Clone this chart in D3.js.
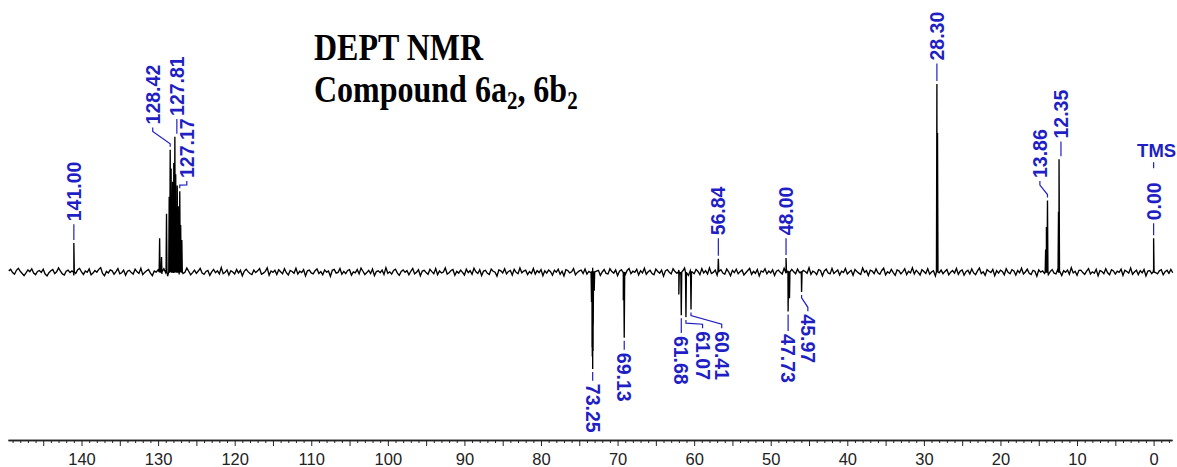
<!DOCTYPE html>
<html><head><meta charset="utf-8">
<script src="https://cdn.jsdelivr.net/npm/d3@7/dist/d3.min.js"></script>
<style>body{margin:0;background:#fff}svg{display:block}</style>
</head><body>
<svg id="chart" width="1177" height="467"></svg>
<script>
// ---------- DATA ----------
const titleLine1 = "DEPT NMR";
const titleParts = [["Compound 6a", false], ["2", true], [", 6b", false], ["2", true]];

// baseline noise (intensity units, 28.30 peak = 100)
const noiseStartPpm = 149.5;
const noiseStepPpm = 0.25;
const noise = [
 0.6,1.4,-0.3,-1.2,0.9,2.0,0.4,-0.8,-1.9,-0.5,1.1,0.2,1.7,-0.6,-1.4,0.3,0.8,-0.2,1.5,-1.1,
 -2.1,-0.4,0.7,1.3,-0.9,0.1,2.2,0.5,-1.0,-1.6,0.4,1.0,-0.3,0.6,-1.8,-0.7,1.2,1.9,0.0,-1.3,
 0.5,-0.2,1.6,-1.5,-0.6,0.8,-0.1,1.4,2.3,-0.8,-2.0,0.3,-0.5,1.1,0.6,-1.2,0.2,1.8,-0.9,-0.4,
 1.0,-1.7,0.4,0.9,-0.3,-1.1,1.5,0.1,-0.7,2.0,-1.4,-0.2,0.7,1.3,-0.6,-1.9,0.5,-0.1,1.2,0.3,
 -1.0,1.7,-0.4,-2.2,0.6,1.1,-0.5,0.2,1.6,-1.3,0.9,-0.8,-0.1,2.1,0.4,-1.5,-0.3,1.0,-0.7,0.5,
 1.9,-0.6,-1.2,0.3,0.8,-1.8,0.1,1.4,-0.4,0.6,-1.0,2.4,-0.9,-0.2,1.1,-1.6,0.7,0.0,-1.1,1.3,
 -0.5,0.9,-2.0,0.4,1.5,0.2,-0.8,-1.4,1.0,-0.3,0.6,1.8,-1.2,-0.6,0.3,2.2,-1.7,0.5,-0.2,0.9,
 -1.3,1.2,0.1,-0.9,1.7,-0.4,-1.6,0.8,0.3,-0.7,2.0,-1.1,0.4,-0.3,1.3,-2.1,0.6,1.0,-0.5,-1.0,
 0.7,1.6,-0.8,0.2,-1.5,1.1,-0.1,0.5,-2.3,0.9,1.4,-0.6,-0.2,1.9,-1.2,0.3,-0.9,0.8,1.2,-1.7,
 0.0,-0.5,1.3,-1.0,2.1,0.4,-1.4,-0.3,0.9,-0.8,1.6,-1.9,0.2,0.6,-0.4,1.0,-1.3,2.3,-0.7,0.1,
 -1.1,0.8,1.5,-0.6,-1.8,0.3,1.1,-0.2,0.7,-1.5,0.4,1.9,-1.0,-0.1,1.2,-2.0,0.5,0.9,-0.3,-1.2,
 1.4,0.2,-0.9,1.8,-1.4,0.6,-0.5,0.0,2.2,-1.1,-0.4,0.8,1.3,-1.7,0.3,-0.6,1.0,-0.2,-1.6,1.5,
 -0.3,0.7,-1.2,2.0,0.1,-0.8,1.2,-1.9,0.5,0.9,-0.7,-1.3,1.6,0.4,-0.1,-2.2,1.1,0.6,-0.5,1.7,
 -1.0,0.3,0.8,-1.6,1.4,-0.2,-0.9,2.1,-0.4,0.5,1.0,-1.4,0.2,-0.8,1.9,-1.1,0.7,-0.3,1.3,-2.0,
 0.6,-0.6,1.1,0.2,-1.7,0.9,-0.1,1.5,-1.2,0.4,-2.1,1.2,0.8,-0.5,0.1,1.8,-1.5,-0.2,0.6,1.0,
 -0.8,1.6,-1.1,0.3,-0.4,2.3,-1.3,0.5,0.9,-1.8,0.0,1.3,-0.7,-1.0,1.7,0.2,-0.6,1.1,-1.9,0.4,
 1.2,-0.3,-1.5,0.8,1.9,-0.9,0.4,-0.2,1.4,-1.6,0.7,-0.5,2.0,-1.2,0.1,0.9,-0.8,-1.4,1.5,0.3,
 -0.6,1.0,-2.2,0.6,1.3,-0.1,-1.0,1.7,0.2,-0.7,1.1,-1.3,0.5,2.1,-0.4,-1.8,0.8,0.0,-0.9,1.4,
 0.3,-1.4,1.8,-0.5,0.7,-1.1,2.2,-0.8,-0.2,1.0,-1.7,0.4,1.2,-0.6,-1.2,1.6,0.1,-2.0,0.9,-0.3,
 1.5,-0.9,0.2,1.1,-1.6,-0.4,0.8,1.9,-1.3,0.3,-0.7,1.3,-2.1,0.6,0.0,1.7,-1.0,0.5,-0.5,1.2,
 -1.8,0.4,1.0,-0.2,-1.1,2.0,-0.6,0.7,-1.5,1.4,0.1,-0.9,1.6,-0.3,-1.9,0.9,0.3,-0.7,2.3,-1.2,
 0.5,-0.1,-1.4,1.2,0.8,-2.0,0.6,1.5,-0.5,-1.0,1.9,-0.8,0.2,1.1,-1.6,0.4,-0.3,1.8,-1.1,0.0,
 0.9,-1.7,1.3,0.3,-0.6,-1.3,2.1,-0.2,0.7,-1.9,1.0,0.5,-0.9,1.6,-0.4,-1.2,0.8,2.0,-1.5,0.1,
 -0.7,1.4,-0.3,-1.8,1.1,0.6,-1.0,0.2,1.7,-1.4,0.4,-0.5,2.2,-1.1,0.9,-0.2,-1.6,1.2,0.3,-0.8,
 1.8,-1.2,0.0,0.7,-2.1,1.5,-0.4,1.0,-0.9,0.3,1.3,-1.5,-0.1,0.8,-0.6,1.9,-1.3,0.5,1.1,-1.7,
 0.2,0.9,-1.0,1.6,-0.5,-1.4,0.6,2.1,-0.8,0.1,-1.8,1.2,0.4,-0.3,1.4,-2.0,0.7,-0.6,1.0,0.3,
 -1.5,1.7,-0.2,-0.9,1.2,0.5,-1.6,0.8,-0.4,2.0,-1.1,0.0,1.5,-0.7,-1.3,0.9,0.4,-2.2,1.1,-0.1,
 0.6,-0.8,1.9,-1.4,0.2,1.3,-0.6,-1.0,1.6,0.3,-1.9,0.7,-0.2,1.1,-1.2,2.3,-0.5,0.4,-1.7,0.9,
 1.0,-0.3,-1.3,0.5,1.8,-1.0,0.1,-0.7,1.4,-2.0,0.8,0.2,-0.9,1.7,-0.4,-1.5,1.2,0.6,-1.1,0.4,
 -0.2,1.5,-1.8,0.9,0.3,-0.6,2.1,-1.2,0.0,1.0,-1.4,0.7,-0.5,1.3,-2.1,0.5,0.8,-0.9,1.6,-0.3,
 -1.0,0.6,1.2,-1.5,0.2,0.9,-0.7,1.4,-0.4
];

// peak lines (ppm, signed intensity)
const peakPpm    = [141.00,129.80,129.55,128.90,128.55,128.42,128.30,128.10,127.95,127.81,127.70,127.50,127.30,127.17,127.05,126.90,
                    73.40,73.33,73.30,73.25,73.20,73.18,73.05,69.25,69.13,62.00,61.68,61.07,60.41,
                    56.84,48.00,47.73,47.55,45.97,28.30,28.22,14.10,14.00,13.86,12.42,12.35,0.00];
const peakHeight = [15.4,18,8,31,40,65,55,48,58,72,52,46,35,43,25,17,
                    -16,-40,-45,-51.6,-42,-28,-10,-15,-35,-12,-23,-24,-20,
                    7,7.5,-21,-14,-10.6,100,74,12,24,38,32,60,18];

// peak labels
const labelText  = ["141.00","128.42","127.81","127.17","56.84","48.00","28.30","13.86","12.35","0.00",
                    "73.25","69.13","61.68","61.07","60.41","47.73","45.97"];
const labelPeak  = [141.00,128.42,127.81,127.17,56.84,48.00,28.30,13.86,12.35,0.00,
                    73.25,69.13,61.68,61.07,60.41,47.73,45.97];
const labelAtPpm = [141.00,130.70,127.55,126.25,56.84,48.00,28.30,14.85,12.10,0.00,
                    73.25,69.13,61.68,58.90,56.40,47.73,45.15];
const labelLevel = [27,78.5,83,50,19.5,19.5,112.5,50,71,27.5,
                    -59.5,-43,-34,-31.5,-31.5,-33,-22.5];
const refLabel = "TMS";

const axisMin = -2.4, axisMax = 149.6;
const majorTicks = d3.range(0, 141, 10);

// ---------- DRAW ----------
const svg = d3.select("#chart");
const x = d3.scaleLinear().domain([axisMax, axisMin]).range([8, 1172]);
const y = d3.scaleLinear().domain([0, 100]).range([272, 84]);
const blue = "#1f1fc4";

// title
const title = svg.append("g").attr("font-family", "'Liberation Serif','Times New Roman',serif")
  .attr("font-weight", "bold").attr("fill", "#000");
title.append("text").attr("transform", "translate(314,60) scale(1,1.18)").attr("font-size", 32).text(titleLine1);
const t2 = title.append("text").attr("transform", "translate(314,102) scale(1,1.18)").attr("font-size", 32);
titleParts.forEach(([s, sub], k) => {
  const ts = t2.append("tspan").text(s);
  if (sub) ts.attr("font-size", 21).attr("dy", 6);
  else if (k > 0) ts.attr("dy", -6);
});

// spectrum trace
const pts = noise.map((v, i) => [noiseStartPpm - i * noiseStepPpm, v]);
peakPpm.forEach((p, i) => { pts.push([p + 0.06, 0], [p, peakHeight[i]], [p - 0.06, 0]); });
pts.sort((a, b) => b[0] - a[0]);
svg.append("path").datum(pts)
  .attr("d", d3.line().x(d => x(d[0])).y(d => y(d[1])))
  .attr("fill", "none").attr("stroke", "#000").attr("stroke-width", 1.35);

// axis
const ax = 440;
const minorVals = d3.range(-2, 150, 1).filter(v => v % 5 !== 0);
const g1 = svg.append("g").attr("transform", `translate(0,${ax})`)
  .call(d3.axisBottom(x).tickValues(minorVals).tickSize(3).tickSizeOuter(0).tickFormat(""));
const g2 = svg.append("g").attr("transform", `translate(0,${ax})`)
  .call(d3.axisBottom(x).tickValues(d3.range(0, 150, 5)).tickSize(6).tickSizeOuter(0).tickPadding(7)
    .tickFormat(d => majorTicks.includes(d) ? d : ""));
[g1, g2].forEach(g => {
  g.select(".domain").attr("stroke", "#222").attr("stroke-width", 1.4);
  g.selectAll(".tick line").attr("stroke", "#222");
});
g2.selectAll(".tick text").attr("font-family", "'Liberation Sans',Arial,sans-serif")
  .attr("font-size", 16.5).attr("fill", "#222");

// labels
const lab = svg.append("g").attr("font-family", "'Liberation Sans',Arial,sans-serif")
  .attr("font-size", 19.5).attr("font-weight", "bold").attr("fill", blue);
labelText.forEach((txt, i) => {
  const pk = labelPeak[i];
  const h = peakHeight[peakPpm.indexOf(pk)];
  const px = x(pk), lx = x(labelAtPpm[i]);
  const up = labelLevel[i] > 0;
  const s = up ? -1 : 1;
  const tipY = y(h) + s * 3;
  const textY = y(labelLevel[i]);
  const endY = textY - s * 3;
  let d;
  if (Math.abs(lx - px) < 2.5) {
    d = `M${lx},${tipY}L${lx},${endY}`;
  } else {
    d = `M${px},${tipY}L${px},${tipY + s * 3}L${lx},${endY - s * 4}L${lx},${endY}`;
  }
  lab.append("path").attr("d", d).attr("fill", "none").attr("stroke", blue).attr("stroke-width", 1.2);
  lab.append("text").attr("transform", `translate(${lx},${textY}) rotate(${up ? -90 : 90})`)
    .attr("dominant-baseline", "central").text(txt);
  if (txt === "0.00") {
    lab.append("path").attr("d", `M${lx},${textY - 58}L${lx},${textY - 52}`)
      .attr("stroke", blue).attr("stroke-width", 1.2);
    lab.append("text").attr("x", lx + 3).attr("y", textY - 63).attr("text-anchor", "middle")
      .attr("font-size", 18.5).text(refLabel);
  }
});
</script>
</body></html>
